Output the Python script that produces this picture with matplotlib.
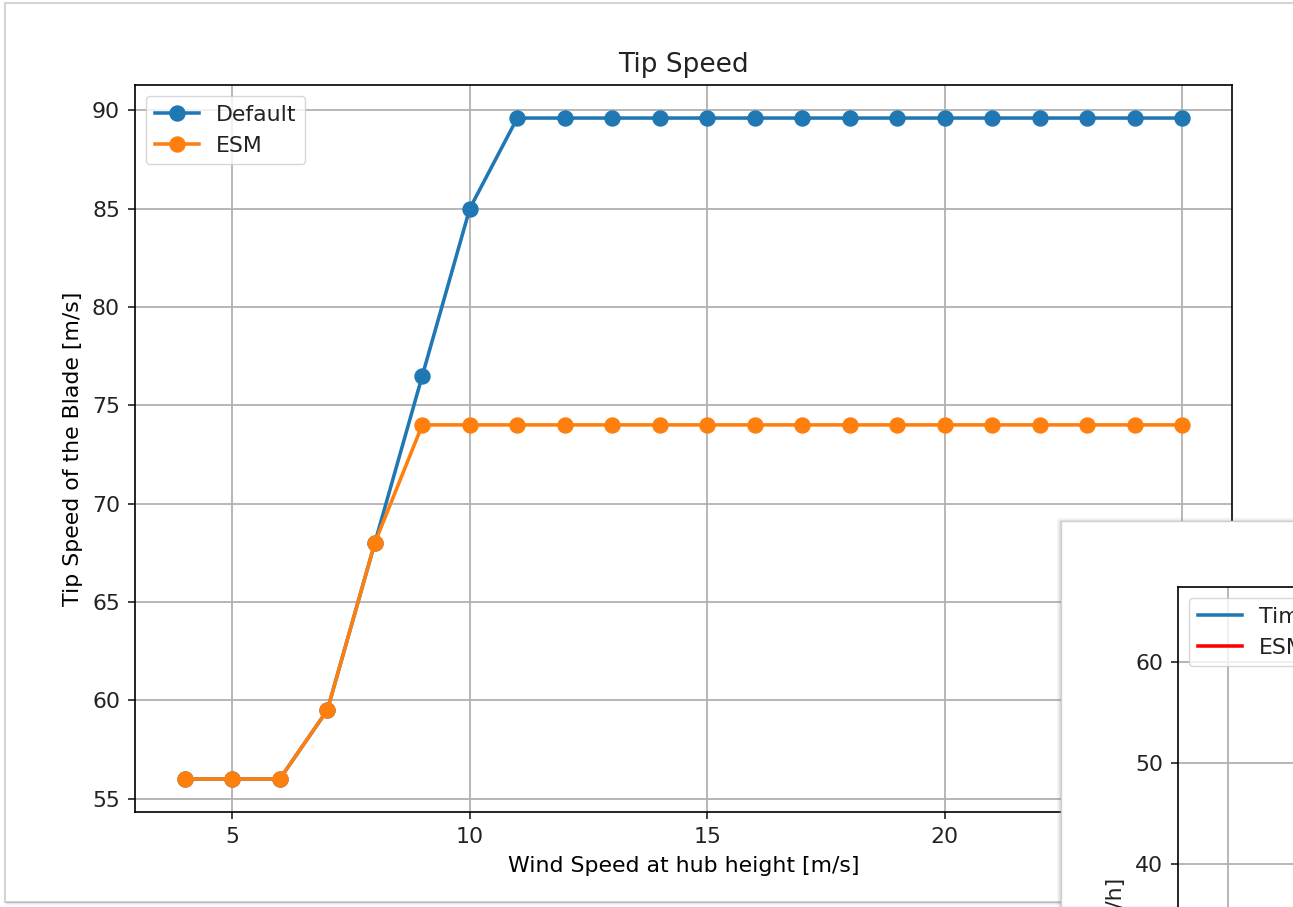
import numpy as np
import matplotlib
matplotlib.use("Agg")
import matplotlib.pyplot as plt
from matplotlib.patches import Rectangle
from matplotlib.lines import Line2D

# data
wind = [4, 5, 6, 7, 8, 9, 10, 11, 12, 13, 14, 15, 16, 17, 18, 19, 20, 21, 22, 23, 24, 25]
tip_default = [56, 56, 56, 59.5, 68, 76.5, 85, 89.6, 89.6, 89.6, 89.6, 89.6, 89.6,
               89.6, 89.6, 89.6, 89.6, 89.6, 89.6, 89.6, 89.6, 89.6]
tip_esm = [56, 56, 56, 59.5, 68, 74, 74, 74, 74, 74, 74, 74, 74,
           74, 74, 74, 74, 74, 74, 74, 74, 74]

s = 1.5   # screenshot was scaled up (lines)
t = 1.58  # (text)
plt.rcParams.update({
    "font.size": 10 * t,
    "text.color": "#222222",
    "xtick.color": "#222222",
    "ytick.color": "#222222",
    "lines.linewidth": 1.7 * s,
    "lines.markersize": 7.2 * s,
    "axes.linewidth": 0.8 * s,
    "axes.titlepad": 6 * t,
    "axes.labelpad": 4 * t,
    "grid.linewidth": 0.85 * s,
    "xtick.major.size": 3.5 * s,
    "ytick.major.size": 3.5 * s,
    "xtick.major.width": 0.8 * s,
    "ytick.major.width": 0.8 * s,
    "xtick.major.pad": 3.5 * t,
    "ytick.major.pad": 3.5 * t,
})

W, H = 1293, 907
fig = plt.figure(figsize=(W / 100, H / 100), dpi=100)

def px(x0, y0, x1, y1):
    # pixel box (top-left origin) -> figure fraction rect
    return [x0 / W, 1 - y1 / H, (x1 - x0) / W, (y1 - y0) / H]

# main window frame
fig.patches.append(Rectangle((5 / W, 1 - 902 / H), 1.2, 899 / H, transform=fig.transFigure,
                             facecolor="white", edgecolor="#d4d4d4", lw=1.5, zorder=-2))
for i, a in enumerate([0.35, 0.2, 0.1]):
    fig.patches.append(Rectangle((6 / W, 1 - (903 + i) / H), 1.2, 1 / H, transform=fig.transFigure,
                                 facecolor="#888888", edgecolor="none", alpha=a, zorder=-2))

ax = fig.add_axes(px(135, 85, 1232, 812))
ax.plot(wind, tip_default, "o-", label="Default")
ax.plot(wind, tip_esm, "o-", label="ESM")
ax.set_title("Tip Speed")
ax.set_xlabel("Wind Speed at hub height [m/s]")
ax.set_ylabel("Tip Speed of the Blade [m/s]")
ax.legend(loc="upper left")
ax.grid(True)

# second window lying on top
for i, a in enumerate([0.25, 0.15, 0.08, 0.04]):
    fig.patches.append(Rectangle(((1060 - i) / W, 0), 1, (907 - 521 + i) / H, transform=fig.transFigure,
                                 facecolor="none", edgecolor="#777777", lw=1, alpha=a, zorder=1))
fig.patches.append(Rectangle((1061 / W, 0), 1, (907 - 521) / H, transform=fig.transFigure,
                             facecolor="white", edgecolor="#d0d0d0", lw=1, zorder=1.5))

ax2 = fig.add_axes(px(1178, 587, 1578, 1300))
ax2.set_zorder(3)
ax2.set_xlim(-0.5, 3.5)
ax2.set_xticks([0, 1, 2, 3])
ax2.set_ylim(-3.2, 67.4)
ax2.set_yticks([0, 10, 20, 30, 40, 50, 60])
ax2.grid(True)
handles = [Line2D([], [], color="C0"), Line2D([], [], color="red")]
ax2.legend(handles, ["Time series", "ESM"], loc="upper left")
fig.text(1116 / W, 1 - 878 / H, "Wind Speed [km/h]", rotation=90, ha="center", va="top", zorder=5)

fig.savefig("out.png", dpi=100)
